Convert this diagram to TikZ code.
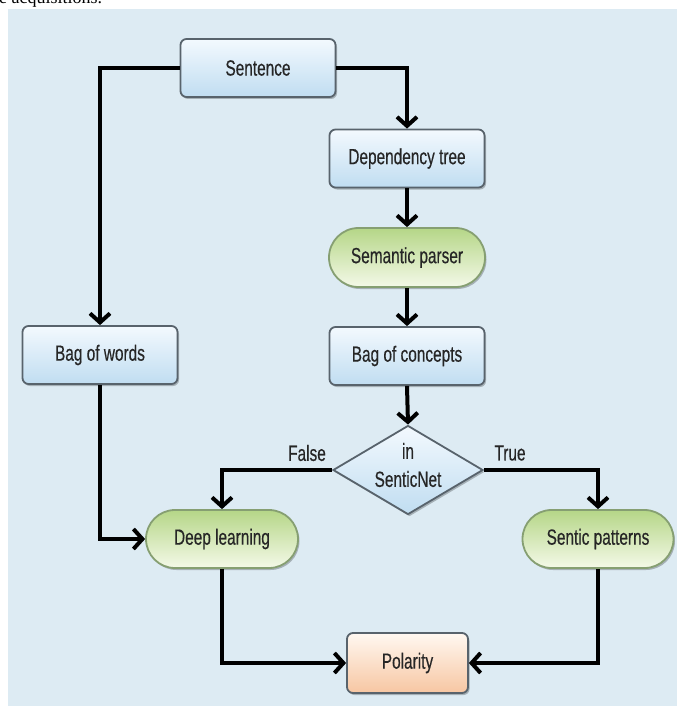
\documentclass[tikz,border=0pt]{standalone}
\usepackage{fontspec}
\setmainfont{Liberation Sans}[FakeStretch=0.70,FakeBold=0.4]
\newfontfamily\topserif{Liberation Serif}
\usetikzlibrary{arrows.meta,shapes.geometric,shapes.misc,shadows}
\definecolor{bgblue}{HTML}{DDEBF3}
\definecolor{boxtop}{HTML}{F3F9FE}
\definecolor{boxbot}{HTML}{C0DDF1}
\definecolor{boxline}{HTML}{58636C}
\definecolor{greentop}{HTML}{B5D687}
\definecolor{greenbot}{HTML}{F4F9E8}
\definecolor{greenline}{HTML}{869F72}
\definecolor{peachtop}{HTML}{FFF8F1}
\definecolor{peachbot}{HTML}{F7C6A2}
\definecolor{txtgray}{HTML}{262626}
\tikzset{
  base/.style={inner sep=0pt, text=txtgray, font=\fontsize{22}{26}\selectfont,
    drop shadow={shadow xshift=1.5pt, shadow yshift=-2pt, opacity=0.25, fill=black}},
  bluebox/.style={base, rectangle, rounded corners=6pt, draw=boxline, line width=1.8pt,
    top color=boxtop, bottom color=boxbot, minimum width=155pt, minimum height=58pt},
  greenpill/.style={base, rounded rectangle, draw=greenline, line width=1.8pt,
    top color=greentop, bottom color=greenbot, minimum width=154pt, minimum height=58pt},
  peachbox/.style={base, rectangle, rounded corners=6pt, draw=boxline, line width=1.8pt,
    top color=peachtop, bottom color=peachbot, minimum width=121pt, minimum height=60pt},
  decision/.style={base, diamond, draw=boxline, line width=1.8pt,
    top color=boxtop, bottom color=boxbot, minimum width=150pt, minimum height=89pt},
  plain/.style={inner sep=0pt, text=txtgray, font=\fontsize{22}{28}\selectfont},
  conn/.style={draw=black, line width=4pt, -{Straight Barb[length=9pt,width=20pt]}}
}
\begin{document}
\begin{tikzpicture}[x=1pt,y=-1pt]
\useasboundingbox (0,0) rectangle (677,706);
\fill[bgblue] (8,9) rectangle (677,706);
\node[anchor=base west, inner sep=0pt, font=\topserif\fontsize{18}{20}\selectfont] (caption) at (-1,4) {e acquisitions.};

\node[bluebox] (sent) at (258,68) {Sentence};
\node[bluebox] (dep) at (407,158.5) {Dependency tree};
\node[greenpill, minimum width=156pt, minimum height=59pt] (sem) at (407,257.5) {Semantic parser};
\node[bluebox] (boc) at (407,356) {Bag of concepts};
\node[bluebox] (bow) at (100,355) {Bag of words};
\node[decision] (dec) at (408,470) {};
\node[plain, align=center] (dectext) at (408,465) {in\\SenticNet};
\node[greenpill, minimum width=152pt] (deep) at (222,539) {Deep learning};
\node[greenpill, minimum width=151pt] (sp) at (598,539) {Sentic patterns};
\node[peachbox] (pol) at (407.5,663) {Polarity};

\node[plain] (false) at (307,453) {False};
\node[plain] (true) at (510,453) {True};

\draw[conn] (sent.west) -| (bow.north);
\draw[conn] (sent.east) -| (dep.north);
\draw[conn] (dep.south) -- (sem.north);
\draw[conn] (sem.south) -- (boc.north);
\draw[conn] (boc.south) -- (dec.north);
\draw[conn] (dec.west) -| (deep.north);
\draw[conn] (dec.east) -| (sp.north);
\draw[conn] (bow.south) |- (deep.west);
\draw[conn] (deep.south) |- (pol.west);
\draw[conn] (sp.south) |- (pol.east);
\end{tikzpicture}
\end{document}
